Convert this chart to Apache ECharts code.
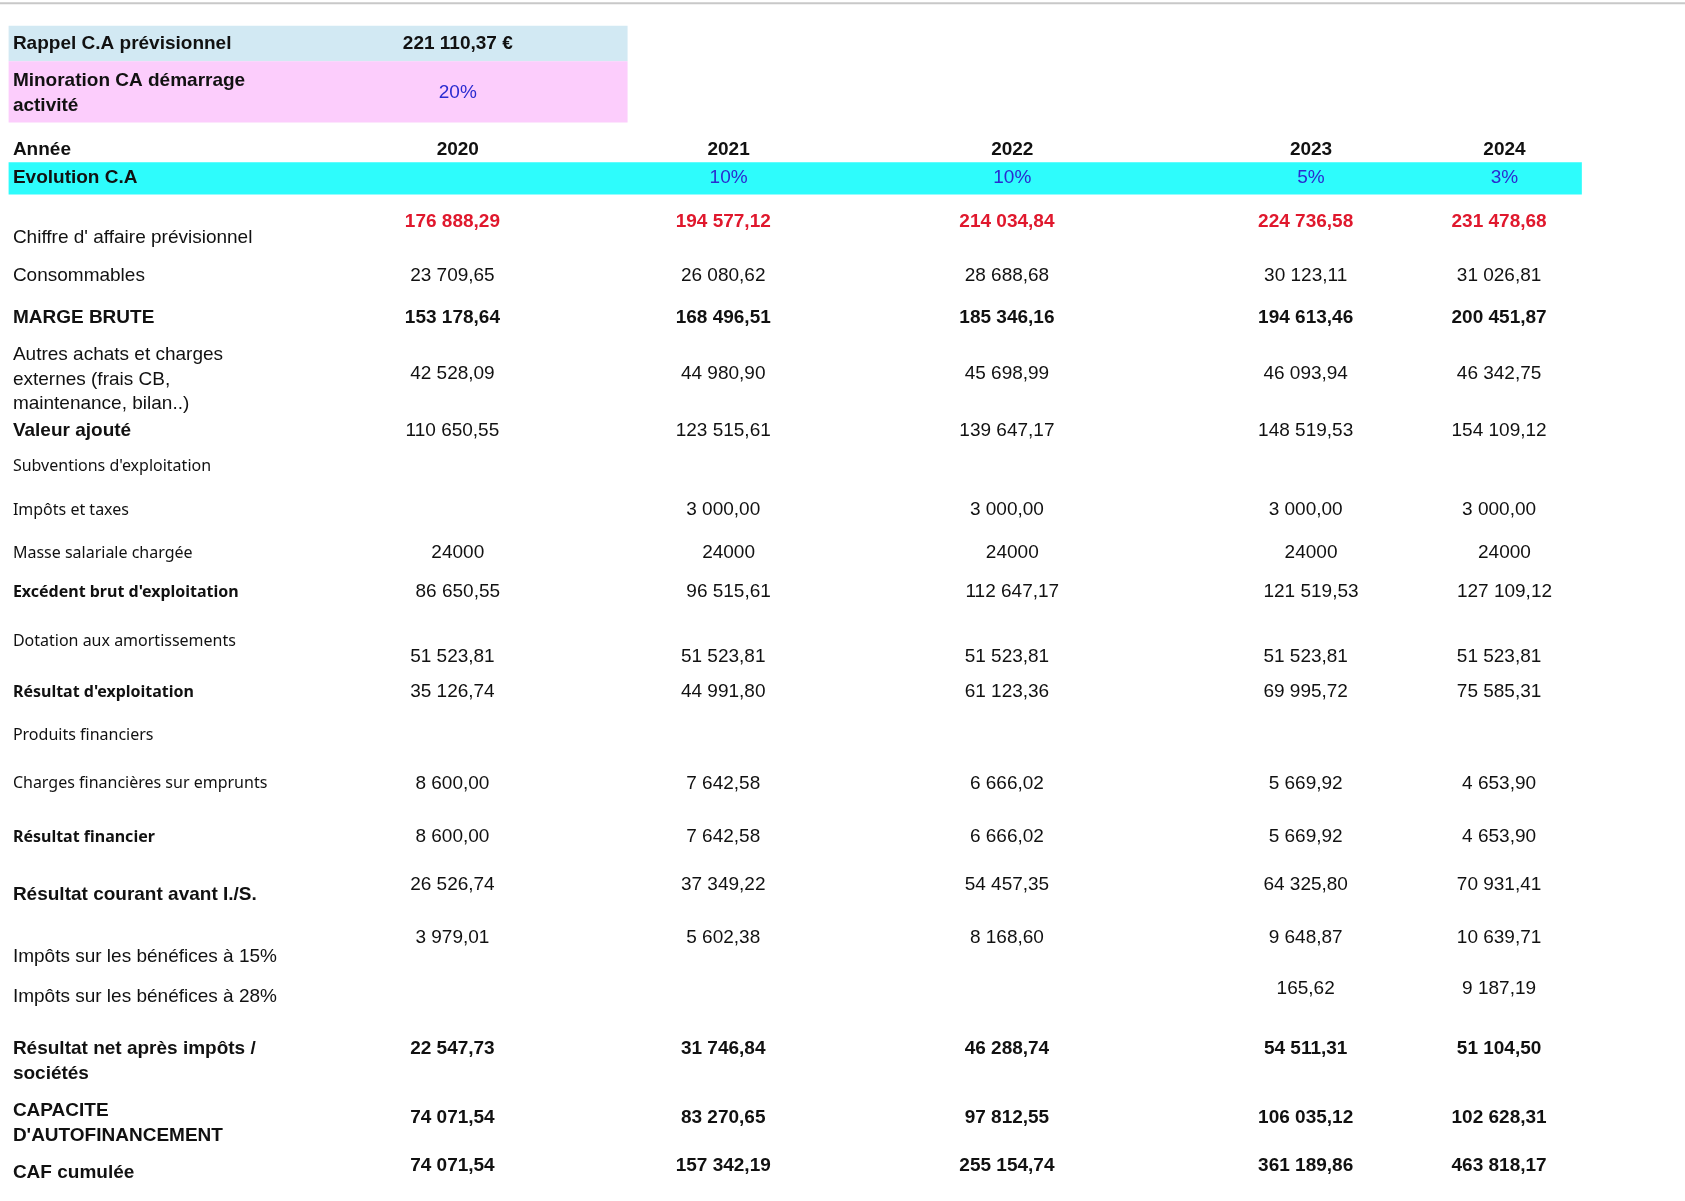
<!DOCTYPE html>
<html><head><meta charset="utf-8">
<script src="https://cdn.jsdelivr.net/npm/echarts@6/dist/echarts.min.js"></script>
<style>html,body{margin:0;padding:0;background:#fff}#c{width:1685px;height:1201px}</style>
</head><body><div id="c"></div>
<script>
const years = ['2020','2021','2022','2023','2024'];
const evolution = ['', '10%', '10%', '5%', '3%'];
const caPrev = '221 110,37 €';
const minoration = '20%';
const rowLabels = [
 ["Chiffre d' affaire prévisionnel"], ['Consommables'], ['MARGE BRUTE'],
 ['Autres achats et charges','externes (frais CB,','maintenance, bilan..)'], ['Valeur ajouté'],
 ["Subventions d'exploitation"], ['Impôts et taxes'], ['Masse salariale chargée'],
 ["Excédent brut d'exploitation"], ['Dotation aux amortissements'], ["Résultat d'exploitation"],
 ['Produits financiers'], ['Charges financières sur emprunts'], ['Résultat financier'],
 ['Résultat courant avant I./S.'], ['Impôts sur les bénéfices à 15%'], ['Impôts sur les bénéfices à 28%'],
 ['Résultat net après impôts /','sociétés'], ['CAPACITE',"D'AUTOFINANCEMENT"], ['CAF cumulée']
];
const v2020 = ['176 888,29','23 709,65','153 178,64','42 528,09','110 650,55','','','24000','86 650,55','51 523,81','35 126,74','','8 600,00','8 600,00','26 526,74','3 979,01','','22 547,73','74 071,54','74 071,54'];
const v2021 = ['194 577,12','26 080,62','168 496,51','44 980,90','123 515,61','','3 000,00','24000','96 515,61','51 523,81','44 991,80','','7 642,58','7 642,58','37 349,22','5 602,38','','31 746,84','83 270,65','157 342,19'];
const v2022 = ['214 034,84','28 688,68','185 346,16','45 698,99','139 647,17','','3 000,00','24000','112 647,17','51 523,81','61 123,36','','6 666,02','6 666,02','54 457,35','8 168,60','','46 288,74','97 812,55','255 154,74'];
const v2023 = ['224 736,58','30 123,11','194 613,46','46 093,94','148 519,53','','3 000,00','24000','121 519,53','51 523,81','69 995,72','','5 669,92','5 669,92','64 325,80','9 648,87','165,62','54 511,31','106 035,12','361 189,86'];
const v2024 = ['231 478,68','31 026,81','200 451,87','46 342,75','154 109,12','','3 000,00','24000','127 109,12','51 523,81','75 585,31','','4 653,90','4 653,90','70 931,41','10 639,71','9 187,19','51 104,50','102 628,31','463 818,17'];
const values = [v2020, v2021, v2022, v2023, v2024];

// layout (reference units, scaled)
const S = 1685/1568;
const colX = [426, 678, 942, 1220, 1400];
const valX = [421, 673, 937, 1215, 1395];
const labelY = [221,257,296,330,401,434,475,515,551,597,644,684,729,779,833,890,928,976,1034,1091];
const valueY = [206,257,296,348,401,434,474,514,551,611,644,684,729,779,823,873,920,976,1040,1085];
const labelBold = [0,0,1,0,1,0,0,0,1,0,1,0,0,1,1,0,0,1,1,1];
const labelSmall = [0,0,0,0,0,1,1,1,1,1,1,1,1,1,0,0,0,0,0,0];
const valBold = [1,0,1,0,0,0,0,0,0,0,0,0,0,0,0,0,0,1,1,1];
const centered = [0,0,0,0,0,0,0,1,1,0,0,0,0,0,0,0,0,0,0,0];

const F = 'Liberation Sans, Arial, sans-serif';
const FS = 'Noto Sans, DejaVu Sans, sans-serif';
const g = [];
function rect(x,y,w,h,c){g.push({type:'rect',shape:{x:x*S,y:y*S,width:w*S,height:h*S},style:{fill:c},silent:true});}
function text(t,x,y,o){o=o||{};g.push({type:'text',x:x*S,y:y*S,style:{text:t,fill:o.color||'#111',font:(o.bold?'bold ':'')+(o.size||19)+'px '+(o.family||F),textAlign:o.align||'left',textVerticalAlign:'middle'},silent:true});}

g.push({type:'line',shape:{x1:0,y1:3*S,x2:1568*S,y2:3*S},style:{stroke:'#c8c8c8',lineWidth:2},silent:true});
rect(8,24,576,33,'#d2e9f3');
rect(8,57,576,57,'#fccdfc');
rect(8,151,1464,30,'#2efcfc');
text('Rappel C.A prévisionnel',12,41,{bold:1});
text(caPrev,426,41,{bold:1,align:'center'});
text('Minoration CA démarrage',12,75,{bold:1});
text('activité',12,98,{bold:1});
text(minoration,426,86,{align:'center',color:'#2b2bd0'});
text('Année',12,139,{bold:1});
text('Evolution C.A',12,165,{bold:1});
years.forEach((y,i)=>{text(y,colX[i],139,{bold:1,align:'center'}); if(evolution[i]) text(evolution[i],colX[i],165,{align:'center',color:'#2b2bd0'});});

rowLabels.forEach((lines,r)=>{
  const n=lines.length, step=23;
  lines.forEach((l,k)=>{
    const y = labelY[r] + (n===3? (k-0)*step : k*step);
    text(l,12,y,{bold:labelBold[r],size:labelSmall[r]?16:19,family:labelSmall[r]?FS:F});
  });
  values.forEach((col,c)=>{
    const v=col[r]; if(!v) return;
    const x = centered[r]? colX[c] : valX[c];
    text(v,x,valueY[r],{bold:valBold[r],align:'center',color:r===0?'#e0182d':'#111'});
  });
});

const chart = echarts.init(document.getElementById('c'));
chart.setOption({animation:false,graphic:{elements:g}});
</script></body></html>
